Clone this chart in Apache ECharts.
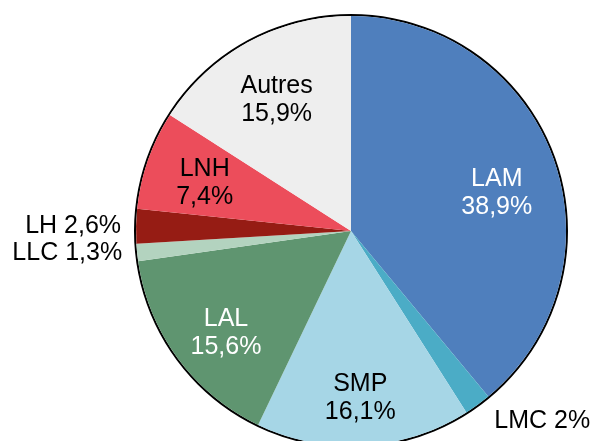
<!DOCTYPE html>
<html>
<head>
<meta charset="utf-8">
<script src="https://cdn.jsdelivr.net/npm/echarts@6/dist/echarts.min.js"></script>
<style>
  html, body { margin: 0; padding: 0; background: #fff; }
  #chart { width: 591px; height: 441px; }
</style>
</head>
<body>
<div id="chart"></div>
<script>
const names = ['LAM', 'LMC', 'SMP', 'LAL', 'LLC', 'LH', 'LNH', 'Autres']
const values = [38.9, 2, 16.1, 15.6, 1.3, 2.6, 7.4, 15.9]
const colors = ['#4f7fbd', '#4bacc6', '#a6d6e6', '#5f9570', '#b3d3bf', '#961c14', '#ec4d5b', '#eeeeee']
const textColors = ['#fff', '#000', '#000', '#fff', '#000', '#000', '#000', '#000']
const outside = ['LMC', 'LH', 'LLC']

const fmt = v => String(v).replace('.', ',') + '%'

const center = [351, 231]
const R = 215
const font = { fontFamily: 'Liberation Sans, Arial, sans-serif', fontSize: 25, lineHeight: 28 }
// small nudges so the inside labels sit where Excel put them
const nudge = { LAM: 15, Autres: 5, LNH: 3, SMP: 12, LAL: 10 }

// main slices + outside labels for the small ones
const mainData = names.map((n, i) => {
  const out = outside.includes(n)
  return {
    name: n,
    value: values[i],
    itemStyle: { color: colors[i] },
    label: out
      ? { show: true, position: 'outside', formatter: n + ' ' + fmt(values[i]), color: '#000', ...font, lineHeight: 25 }
      : { show: false },
    labelLine: n === 'LMC'
      ? { show: false, length: 20, length2: 0 }
      : { show: false, length: 5, length2: 5 }
  }
})

// transparent overlay, only used to place the inside labels further out
const labelData = names.map((n, i) => ({
  name: n,
  value: values[i],
  itemStyle: { color: 'rgba(0,0,0,0)' },
  label: outside.includes(n)
    ? { show: false }
    : { show: true, position: 'inside', formatter: n + '\n' + fmt(values[i]), color: textColors[i], ...font }
}))

const chart = echarts.init(document.getElementById('chart'))
chart.setOption({
  animation: false,
  backgroundColor: '#fff',
  series: [
    {
      type: 'pie',
      center: center,
      radius: [R, R + 2],
      silent: true,
      label: { show: false },
      labelLine: { show: false },
      itemStyle: { color: '#000' },
      data: [{ value: 1 }]
    },
    {
      type: 'pie',
      center: center,
      radius: [0, R],
      startAngle: 90,
      avoidLabelOverlap: false,
      silent: true,
      labelLayout: { hideOverlap: false },
      itemStyle: { borderWidth: 0 },
      data: mainData
    },
    {
      type: 'pie',
      center: center,
      radius: [89, R],
      startAngle: 90,
      avoidLabelOverlap: false,
      silent: true,
      labelLine: { show: false },
      labelLayout: p => ({ hideOverlap: false, dy: nudge[names[p.dataIndex]] || 0 }),
      data: labelData
    }
  ]
})
</script>
</body>
</html>
